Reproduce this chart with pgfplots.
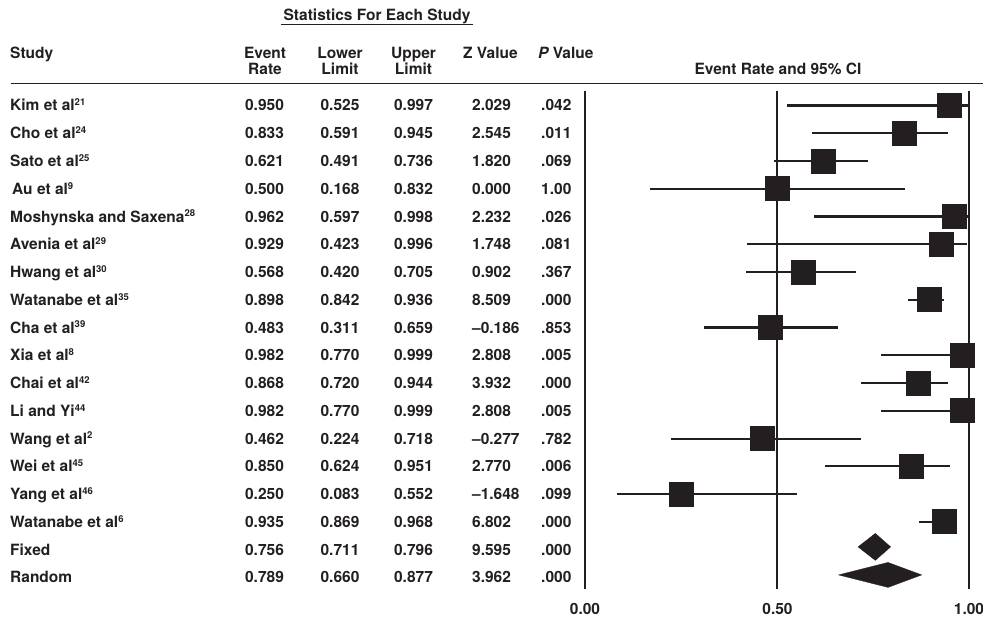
\documentclass[border=0pt]{standalone}
\usepackage{fontspec}
\setmainfont{TeX Gyre Heros}
\usepackage{pgfplots}
\usepackage{pgfplotstable}
\pgfplotsset{compat=1.18}
\definecolor{ink}{RGB}{35,31,32}

\pgfplotstableread{
row  er    lo    hi
1    0.950 0.525 0.997
2    0.833 0.591 0.945
3    0.621 0.491 0.736
4    0.500 0.168 0.832
5    0.962 0.597 0.998
6    0.929 0.423 0.996
7    0.568 0.420 0.705
8    0.898 0.842 0.936
9    0.483 0.311 0.659
10   0.982 0.770 0.999
11   0.868 0.720 0.944
12   0.982 0.770 0.999
13   0.462 0.224 0.718
14   0.850 0.624 0.951
15   0.250 0.083 0.552
16   0.935 0.869 0.968
}\studies

\newcommand\sups[1]{\textsuperscript{\fontsize{9.5}{10}\selectfont #1}}
\newcommand\trow[7]{%
  \pgfmathsetmacro\yy{111+(#1-1)*27.76}%
  \node[anchor=base west] at (10,\yy) {#2};%
  \node[anchor=base] at (264.5,\yy) {#3};%
  \node[anchor=base] at (340,\yy) {#4};%
  \node[anchor=base] at (413.5,\yy) {#5};%
  \node[anchor=base west] at (472,\yy) {#6};%
  \node[anchor=base west] at (541,\yy) {#7};%
}

\begin{document}
\fontsize{15.5}{18}\selectfont\bfseries
\begin{tikzpicture}
\begin{axis}[
  at={(0,0)}, anchor=south west,
  scale only axis, width=983pt, height=620pt,
  hide axis, clip=false,
  xmin=-1.5234375, xmax=1.0364583,
  ymin=-2.80043, ymax=19.5339, y dir=reverse,
]
% reference lines at 0, 0.5, 1
\addplot[ink, line width=2.5pt] coordinates {(0,0.467) (0,18.417)};
\addplot[ink, line width=2.5pt] coordinates {(0.5,0.467) (0.5,18.417)};
\addplot[ink, line width=2.5pt] coordinates {(1,0.467) (1,18.417)};
% studies with 95% CI
\addplot[ink, only marks, mark=square*, mark size=12pt,
  mark options={solid, fill=ink, draw=ink, line width=0pt},
  error bars/.cd, x dir=both, x explicit, error mark=none,
  error bar style={line width=2.2pt, ink}]
  table[x=er, y=row,
        x error plus expr=\thisrow{hi}-\thisrow{er},
        x error minus expr=\thisrow{er}-\thisrow{lo}] {\studies};
% Fixed effect diamond
\addplot[ink, fill=ink, line width=0.3pt] coordinates
  {(0.711,16.9) (0.756,16.414) (0.796,16.9) (0.756,17.386) (0.711,16.9)};
% Random effect diamond
\addplot[ink, fill=ink, line width=0.3pt] coordinates
  {(0.660,17.91) (0.789,17.46) (0.877,17.91) (0.789,18.36) (0.660,17.91)};
\end{axis}

\begin{scope}[x=1pt, y=-1pt, shift={(0pt,620pt)}, every node/.style={inner sep=0pt, text=ink}]
  % title
  \node[anchor=base] at (377,20.7) {Statistics For Each Study};
  \draw[ink, line width=1.1pt] (281,24.3) -- (473,24.3);
  % header
  \node[anchor=base west] at (10,59) {Study};
  \node[anchor=base] at (265,58.3) {Event};
  \node[anchor=base] at (265,75) {Rate};
  \node[anchor=base] at (340,58.3) {Lower};
  \node[anchor=base] at (340,75) {Limit};
  \node[anchor=base] at (413.5,58.3) {Upper};
  \node[anchor=base] at (413.5,75) {Limit};
  \node[anchor=base west] at (463,58.5) {Z Value};
  \node[anchor=base west] at (538,58.5) {{\itshape P} Value};
  \node[anchor=base] at (778,75) {Event Rate and 95\% CI};
  \draw[ink, line width=1.3pt] (11,83.5) -- (983,83.5);
  % rows
  \trow{1}{Kim et al\sups{21}}{0.950}{0.525}{0.997}{2.029}{.042}
  \trow{2}{Cho et al\sups{24}}{0.833}{0.591}{0.945}{2.545}{.011}
  \trow{3}{Sato et al\sups{25}}{0.621}{0.491}{0.736}{1.820}{.069}
  \trow{4}{\hspace{2pt}Au et al\sups{9}}{0.500}{0.168}{0.832}{0.000}{1.00}
  \trow{5}{Moshynska and Saxena\sups{28}}{0.962}{0.597}{0.998}{2.232}{.026}
  \trow{6}{Avenia et al\sups{29}}{0.929}{0.423}{0.996}{1.748}{.081}
  \trow{7}{Hwang et al\sups{30}}{0.568}{0.420}{0.705}{0.902}{.367}
  \trow{8}{Watanabe et al\sups{35}}{0.898}{0.842}{0.936}{8.509}{.000}
  \trow{9}{Cha et al\sups{39}}{0.483}{0.311}{0.659}{\textendash0.186}{.853}
  \trow{10}{Xia et al\sups{8}}{0.982}{0.770}{0.999}{2.808}{.005}
  \trow{11}{Chai et al\sups{42}}{0.868}{0.720}{0.944}{3.932}{.000}
  \trow{12}{Li and Yi\sups{44}}{0.982}{0.770}{0.999}{2.808}{.005}
  \trow{13}{Wang et al\sups{2}}{0.462}{0.224}{0.718}{\textendash0.277}{.782}
  \trow{14}{Wei et al\sups{45}}{0.850}{0.624}{0.951}{2.770}{.006}
  \trow{15}{Yang et al\sups{46}}{0.250}{0.083}{0.552}{\textendash1.648}{.099}
  \trow{16}{Watanabe et al\sups{6}}{0.935}{0.869}{0.968}{6.802}{.000}
  \trow{17}{Fixed}{0.756}{0.711}{0.796}{9.595}{.000}
  \trow{18}{Random}{0.789}{0.660}{0.877}{3.962}{.000}
  % axis labels
  \node[anchor=base] at (585,615) {0.00};
  \node[anchor=base] at (777.5,615) {0.50};
  \node[anchor=base] at (969,615) {1.00};
\end{scope}
\pgfresetboundingbox
\useasboundingbox (0,0) rectangle (983pt,620pt);
\end{tikzpicture}
\end{document}
